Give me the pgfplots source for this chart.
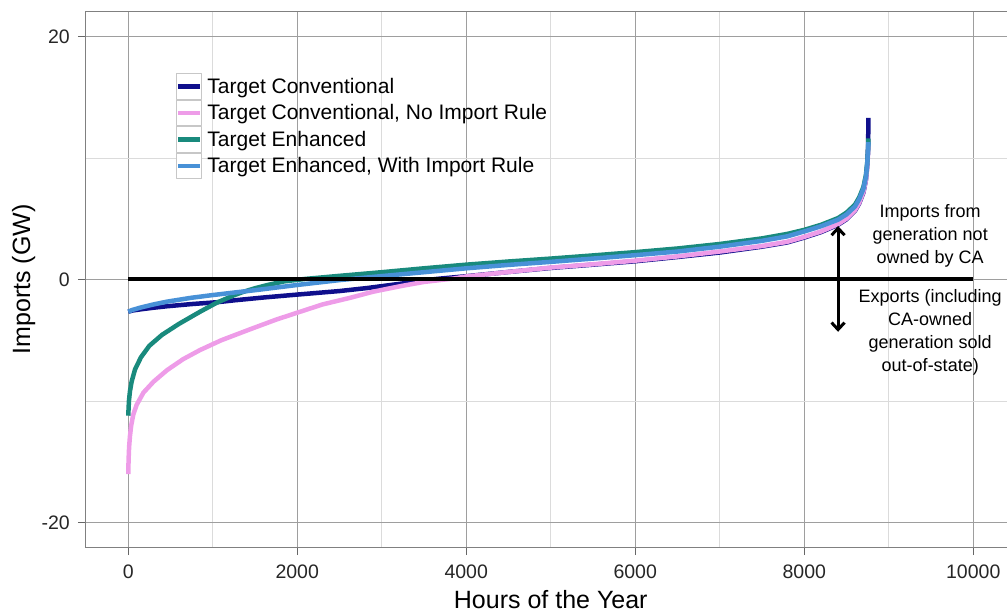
\documentclass[border=0pt]{standalone}
\usepackage{pgfplots}
\pgfplotsset{compat=1.18}
\usepackage{fontspec}
\setmainfont{Liberation Sans}
\usetikzlibrary{arrows.meta}
\definecolor{cnavy}{RGB}{15,15,140}
\definecolor{cpink}{RGB}{238,156,232}
\definecolor{cteal}{RGB}{25,138,125}
\definecolor{cblue}{RGB}{72,145,215}
\begin{document}
\begin{tikzpicture}
\begin{axis}[
  name=ax, at={(0,0)}, anchor=south west,
  scale only axis, width=929.5bp, height=535bp,
  xmin=-500, xmax=10500, ymin=-22, ymax=22,
  xtick={0,2000,4000,6000,8000,10000},
  xticklabels={0,2000,4000,6000,8000,10000},
  minor xtick={1000,3000,5000,7000,9000},
  ytick={-20,0,20}, yticklabels={-20,0,20},
  minor ytick={-10,10},
  scaled x ticks=false, scaled y ticks=false,
  grid=both,
  major grid style={draw=black!38, line width=1bp},
  minor grid style={draw=black!14, line width=0.8bp},
  tick align=outside, tick pos=left,
  major tick length=8bp, minor tick length=0bp,
  every tick/.style={draw=black!60, line width=1bp},
  axis line style={draw=black!50, line width=1bp},
  ticklabel style={font=\fontsize{19.5bp}{23bp}\selectfont, text=black!85},
  yticklabel style={inner sep=0pt, xshift=-8bp},
  xticklabel style={inner sep=0pt, yshift=-10bp},
  xlabel={Hours of the Year}, ylabel={Imports (GW)},
  every axis x label/.style={at={(axis description cs:0.5,0)}, anchor=base, yshift=-61bp, font=\fontsize{25bp}{30bp}\selectfont},
  every axis y label/.style={at={(axis description cs:-0.0602,0.5)}, rotate=90, anchor=base, font=\fontsize{25bp}{30bp}\selectfont},
  legend style={at={(rel axis cs:0.0968,0.886)}, anchor=north west, draw=none, fill=none,
    inner sep=0pt, outer sep=0pt, row sep=0pt, column sep=5bp,
    font=\fontsize{21bp}{25bp}\selectfont,
    nodes={inner sep=0pt, text height=15bp, text depth=1bp, anchor=west}},
  legend image code/.code={
    \draw[draw=black!22, line width=0.8bp, fill=white, solid] (0bp,-12.875bp) rectangle (25bp,12.875bp);
    \draw[#1, line cap=butt] (1.5bp,0bp) -- (23.5bp,0bp);
  },
]
\addplot[cnavy, line width=4.5bp, line join=round] coordinates {
(0,-2.65) (50,-2.55) (150,-2.45) (300,-2.32) (460,-2.2) (750,-2.02) (1050,-1.87) (1245,-1.72) (1600,-1.48) (2035,-1.22) (2500,-0.95) (2830,-0.7) (3220,-0.35) (3450,-0.1) (3700,0.08) (4000,0.27) (4500,0.62) (5000,0.95) (5500,1.22) (6000,1.5) (6500,1.85) (7000,2.22) (7500,2.7) (7800,3.05) (8000,3.45) (8200,3.9) (8400,4.5) (8500,4.95) (8600,5.65) (8650,6.25) (8700,7.15) (8730,8.2) (8745,9.3) (8755,10.8) (8760,13.3)};
\addlegendentry{Target Conventional}
\addplot[cpink, line width=4.5bp, line join=round] coordinates {
(0,-16.0) (4,-14.8) (10,-13.8) (20,-12.9) (35,-12.0) (60,-11.1) (100,-10.3) (180,-9.3) (300,-8.4) (460,-7.45) (650,-6.55) (850,-5.8) (1100,-5.0) (1440,-4.1) (1750,-3.3) (2035,-2.65) (2300,-2.05) (2630,-1.5) (2900,-1.0) (3220,-0.55) (3500,-0.2) (3850,0.08) (4000,0.25) (4500,0.62) (5000,0.98) (5500,1.25) (6000,1.55) (6500,1.9) (7000,2.3) (7500,2.75) (7800,3.1) (8000,3.5) (8200,3.95) (8400,4.55) (8500,5.0) (8600,5.7) (8650,6.3) (8700,7.2) (8730,8.2) (8745,9.2) (8755,10.3) (8760,11.0)};
\addlegendentry{Target Conventional, No Import Rule}
\addplot[cteal, line width=4.5bp, line join=round] coordinates {
(0,-11.2) (8,-10.0) (20,-9.2) (40,-8.4) (80,-7.4) (150,-6.4) (250,-5.45) (400,-4.55) (600,-3.65) (850,-2.65) (1050,-1.9) (1250,-1.3) (1360,-1.02) (1500,-0.72) (1650,-0.45) (1850,-0.15) (2100,0.05) (2500,0.3) (3000,0.6) (3500,0.92) (4000,1.22) (4500,1.48) (5000,1.72) (5500,1.98) (6000,2.25) (6500,2.55) (7000,2.92) (7500,3.38) (7800,3.75) (8000,4.08) (8200,4.5) (8400,5.05) (8500,5.5) (8600,6.15) (8650,6.75) (8700,7.6) (8730,8.6) (8745,9.6) (8755,10.7) (8760,11.6)};
\addlegendentry{Target Enhanced}
\addplot[cblue, line width=4.5bp, line join=round] coordinates {
(0,-2.65) (50,-2.5) (150,-2.3) (300,-2.05) (460,-1.82) (750,-1.5) (1000,-1.28) (1245,-1.08) (1500,-0.88) (2000,-0.45) (2500,-0.05) (3000,0.28) (3500,0.6) (4000,0.92) (4500,1.2) (5000,1.45) (5500,1.72) (6000,2.0) (6500,2.3) (7000,2.7) (7500,3.18) (7800,3.55) (8000,3.95) (8200,4.38) (8400,4.92) (8500,5.35) (8600,6.0) (8650,6.6) (8700,7.45) (8730,8.45) (8745,9.5) (8755,10.6) (8760,11.3)};
\addlegendentry{Target Enhanced, With Import Rule}
\addplot[black, line width=4bp, forget plot] coordinates {(0,0) (10000,0)};
\draw[{Straight Barb[length=7bp,width=13bp]}-{Straight Barb[length=7bp,width=13bp]}, line width=3bp] (axis cs:8400,4.4) -- (axis cs:8400,-4.3);
\node[align=center, font=\fontsize{18bp}{23bp}\selectfont] at (axis cs:9491,3.6) {Imports from\\generation not\\owned by CA};
\node[align=center, font=\fontsize{18bp}{23bp}\selectfont] at (axis cs:9491,-4.35) {Exports (including\\CA-owned\\generation sold\\out-of-state)};
\end{axis}
\pgfresetboundingbox
\path[use as bounding box] ([shift={(-86bp,-65bp)}]ax.south west) rectangle ([shift={(921bp,12bp)}]ax.north west);
\end{tikzpicture}
\end{document}
